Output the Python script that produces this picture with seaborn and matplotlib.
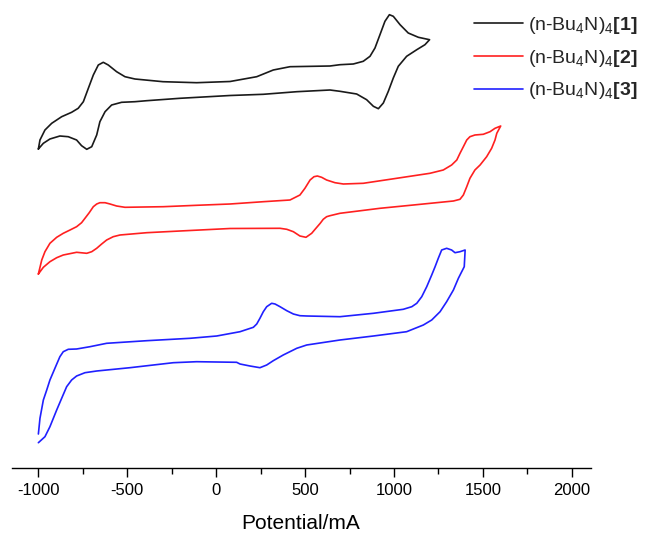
import matplotlib
matplotlib.use("Agg")
import matplotlib.pyplot as plt
from matplotlib.ticker import MultipleLocator
import seaborn as sns
import pandas as pd

# ---------------- data (potential in mV, current in arbitrary offset units) ----------------
labels = [r"(n-Bu$_{4}$N)$_{4}$$\mathbf{[1]}$",
          r"(n-Bu$_{4}$N)$_{4}$$\mathbf{[2]}$",
          r"(n-Bu$_{4}$N)$_{4}$$\mathbf{[3]}$"]
colors = ["#1a1a1a", "#ff2020", "#2020ff"]

# compound 1 (black): forward branch then reverse branch
e1 = [-1000, -991, -963, -925, -869, -813, -776, -747, -719, -691, -663, -635, -607, -560, -513, -457,
      -299, -110, 78, 228, 321, 415, 640, 696, 771, 827, 865, 893, 921, 949, 974, 996, 1034, 1080,
      1137, 1200,
      1174, 1128, 1071, 1024, 996, 968, 940, 912, 884, 846, 790, 696, 640, 453, 265, 78, -204, -391,
      -457, -532, -588, -625, -654, -672, -700, -728, -757, -785, -832, -879, -935, -972, -1000]
i1 = [319, 328, 338, 344.7, 351.3, 355.7, 359.7, 366.3, 379.7, 393, 403, 405.7, 403, 396.3, 391.3, 389,
      386.3, 385.3, 386.5, 391.3, 398, 401.3, 402, 403.3, 404, 406.7, 411.7, 420, 433.3, 446.7, 453.3,
      451.7, 443.3, 435, 430.7, 428.3,
      423.3, 418.3, 411.7, 401.7, 390, 376.7, 365, 359.3, 361.7, 368.3, 374, 376.7, 378, 376.3, 373.7,
      372.5, 369.7, 367.3, 366.3, 365.7, 363, 356.3, 346.3, 333, 321.3, 318.7, 322.3, 328, 331.3, 332,
      329, 324.7, 319]

# compound 2 (red)
e2 = [-1000, -981, -963, -935, -897, -860, -822, -785, -757, -738, -714, -691, -672, -654, -625, -597,
      -560, -513, -298, -110, 78, 265, 415, 471, 499, 528, 550, 569, 593, 621, 668, 715, 827, 1015,
      1202, 1277, 1324, 1353, 1371, 1390, 1409, 1427, 1455, 1502, 1540, 1568, 1600,
      1578, 1568, 1549, 1521, 1484, 1455, 1427, 1409, 1390, 1371, 1334, 1109, 921, 696, 640, 621, 602,
      585, 556, 537, 505, 471, 434, 397, 359, 78, -204, -391, -541, -579, -616, -644, -672, -700,
      -728, -785, -860, -897, -935, -972, -1000]
i2 = [194, 208, 216.3, 224.7, 230.7, 234.7, 238, 241.3, 245.3, 249.7, 255.3, 261.3, 264, 265.3, 265.3, 264,
      262, 260.7, 261.3, 262.7, 264, 266.3, 268, 273, 279.7, 288, 291.3, 292, 290.7, 288, 285.3, 284,
      284.7, 289.7, 294.7, 298, 303, 308, 314.7, 321.3, 328, 331.3, 333, 333.7, 336.3, 339.7, 342,
      334.7, 328, 319.7, 311.3, 303, 298, 289.7, 281.3, 273, 268.7, 267, 263, 259.7, 254.7, 252.3,
      251.3, 248.7, 244.7, 238.7, 234.7, 230.7, 232, 236.3, 238.7, 239.7, 239.5, 237, 235.3, 233,
      231.3, 228, 224, 219.7, 216.3, 214.7, 215.7, 213, 210.3, 206.3, 200.7, 194]

# compound 3 (blue), open loop
e3 = [-1000, -991, -972, -953, -935, -907, -879, -860, -832, -785, -710, -616, -391, -147, 3, 134,
      209, 228, 246, 265, 284, 312, 331, 359, 397, 434, 471, 509, 696, 884, 1052, 1100, 1128, 1156,
      1184, 1212, 1231, 1249, 1268, 1296, 1324, 1343, 1371, 1400,
      1395, 1362, 1334, 1296, 1259, 1212, 1165, 1071, 884, 696, 509, 453, 377, 321, 284, 246, 190,
      134, 115, -110, -241, -485, -672, -738, -785, -813, -841, -869, -897, -935, -963, -1000]
i3 = [34, 49.7, 68, 78, 88, 99.7, 111.3, 116.3, 118.7, 119, 121.3, 124.7, 127.3, 129.7, 132, 136.3,
      140.7, 144, 149.7, 156.3, 161.3, 164.7, 164, 161.3, 157.3, 154, 152.3, 152, 151.3, 154.7, 158.7,
      161.3, 164.7, 171.3, 181.3, 193, 201.3, 209.7, 218, 219.7, 218, 215.3, 216.3, 218,
      201.3, 189.7, 178, 166.3, 156.3, 148, 143, 136.3, 132, 128, 123, 119.7, 113, 107.3, 103, 100.3,
      102, 104, 105.7, 106.3, 105.3, 100.3, 97, 95.3, 92, 88, 81.3, 69.7, 58, 41.3, 31.3, 25.3]

x_ticks = [-1000, -500, 0, 500, 1000, 1500, 2000]
x_label = "Potential/mA"

# ---------------- style ----------------
sns.set_theme(style="ticks")
plt.rcParams["font.family"] = ["Liberation Sans", "DejaVu Sans"]
plt.rcParams["mathtext.fontset"] = "custom"
plt.rcParams["mathtext.rm"] = "Liberation Sans"
plt.rcParams["mathtext.it"] = "Liberation Sans:italic"
plt.rcParams["mathtext.bf"] = "Liberation Sans:bold"
plt.rcParams["lines.solid_joinstyle"] = "round"
plt.rcParams["lines.solid_capstyle"] = "round"

fig = plt.figure(figsize=(6.45, 5.35), dpi=100)
ax = fig.add_axes([11.7 / 645, (535 - 468) / 535, (590.5 - 11.7) / 645, (468 - 5) / 535])

for e, i, c, lab in zip([e1, e2, e3], [i1, i2, i3], colors, labels):
    df = pd.DataFrame({"E": e, "I": i})
    sns.lineplot(data=df, x="E", y="I", sort=False, estimator=None, color=c,
                 linewidth=1.2, label=lab, ax=ax)

ax.set_xlim(-1150, 2105)
ax.set_ylim(0, 463)
ax.set_xticks(x_ticks)
ax.set_xticklabels([str(t) for t in x_ticks])
ax.xaxis.set_minor_locator(MultipleLocator(250))
ax.set_yticks([])
ax.set_ylabel("")
ax.set_xlabel(x_label, fontsize=15, labelpad=11, color="black")

for s in ["top", "right", "left"]:
    ax.spines[s].set_visible(False)
ax.spines["bottom"].set_linewidth(1.0)
ax.spines["bottom"].set_color("black")
ax.tick_params(axis="x", which="major", direction="out", length=6.5, width=1.0,
               labelsize=12, pad=4.5, colors="black", bottom=True)
ax.tick_params(axis="x", which="minor", direction="out", length=4.3, width=1.0,
               colors="black", bottom=True)

leg = ax.legend(loc="upper left", bbox_to_anchor=(474 / 645, 1 - 15 / 535),
                bbox_transform=fig.transFigure, frameon=False, borderpad=0,
                borderaxespad=0, handlelength=2.5, handletextpad=0.3,
                labelspacing=0.6, fontsize=14)
for line in leg.get_lines():
    line.set_linewidth(1.2)

fig.savefig("out.png", dpi=100)
